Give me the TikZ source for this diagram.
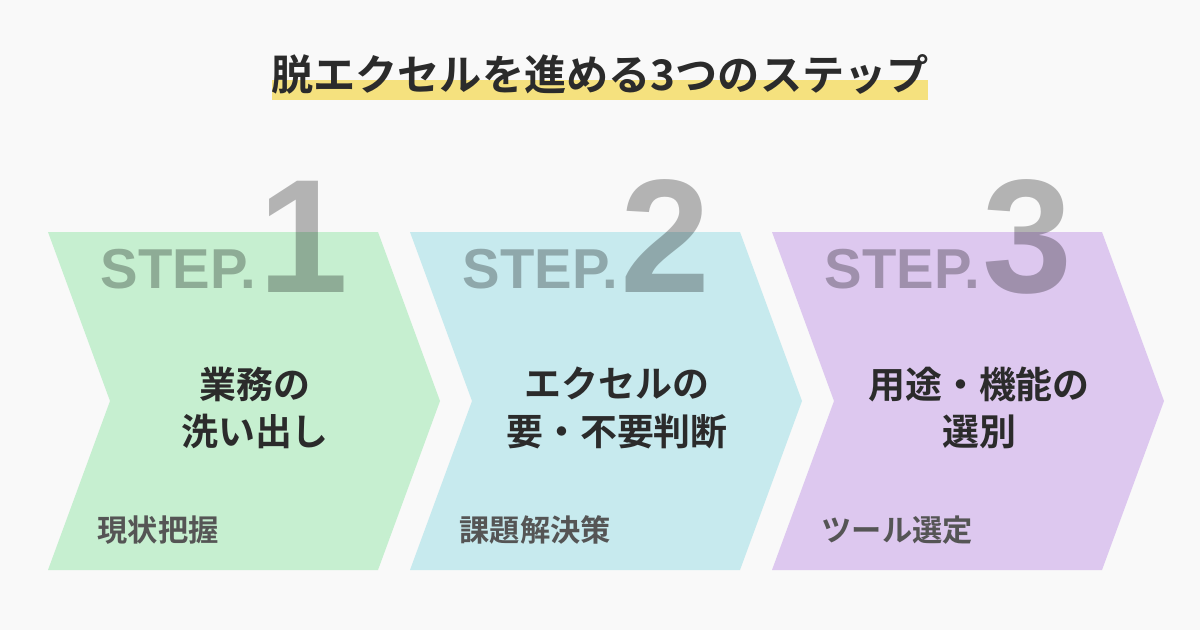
\documentclass[tikz,border=0pt]{standalone}
\usepackage{fontspec}
\setmainfont{Liberation Sans}
\newfontfamily\jpfont{Noto Sans CJK JP}[BoldFont={* Bold}]
\usetikzlibrary{positioning}
\definecolor{bgcol}{HTML}{F9F9F9}
\definecolor{hilite}{HTML}{F5E17E}
\definecolor{stepone}{HTML}{C6EFD0}
\definecolor{steptwo}{HTML}{C7EAEE}
\definecolor{stepthree}{HTML}{DDC8EF}
\definecolor{txtcol}{HTML}{2B2B2B}
\definecolor{subcol}{HTML}{555555}
\tikzset{
    title/.style={font=\jpfont\bfseries\fontsize{12pt}{14pt}\selectfont, text=txtcol},
    mainlabel/.style={font=\jpfont\bfseries\fontsize{10.5pt}{13.4pt}\selectfont, text=txtcol, align=center},
    sublabel/.style={font=\jpfont\bfseries\fontsize{8.6pt}{10pt}\selectfont, text=subcol, anchor=west, inner sep=0pt},
    steplabel/.style={font=\bfseries\fontsize{16pt}{18pt}\selectfont, text=black, opacity=0.28, anchor=base west, inner sep=0pt},
    stepnum/.style={font=\bfseries\fontsize{46pt}{48pt}\selectfont, text=black, opacity=0.28, anchor=base west, inner sep=0pt},
}
\begin{document}
\begin{tikzpicture}[x=0.01cm,y=-0.01cm]
    \fill[bgcol] (0,0) rectangle (1200,630);
    \useasboundingbox (0,0) rectangle (1200,630);

    % title with highlight bar
    \fill[hilite] (272,80) rectangle (928,100);
    \node[title] (ttl) at (600,74) {脱エクセルを進める3つのステップ};

    % chevrons
    \foreach \i/\col/\dig/\la/\lb/\sub in {%
        0/stepone/1/業務の/洗い出し/現状把握,
        1/steptwo/2/エクセルの/要・不要判断/課題解決策,
        2/stepthree/3/用途・機能の/選別/ツール選定}{
        \begin{scope}[xshift=\i*362*0.01cm]
            \fill[\col] (48,232) -- (378,232) -- (440,401) -- (378,570)
                -- (48,570) -- (110,401) -- cycle;
            \node[steplabel] (st\dig) at (100,288) {STEP.};
            \node[stepnum] (num\dig) at (258,292) {\dig};
            \node[mainlabel] (main\dig) at (255,408) {\la\\\lb};
            \node[sublabel] (sub\dig) at (97,530) {\sub};
        \end{scope}
    }
\end{tikzpicture}
\end{document}
